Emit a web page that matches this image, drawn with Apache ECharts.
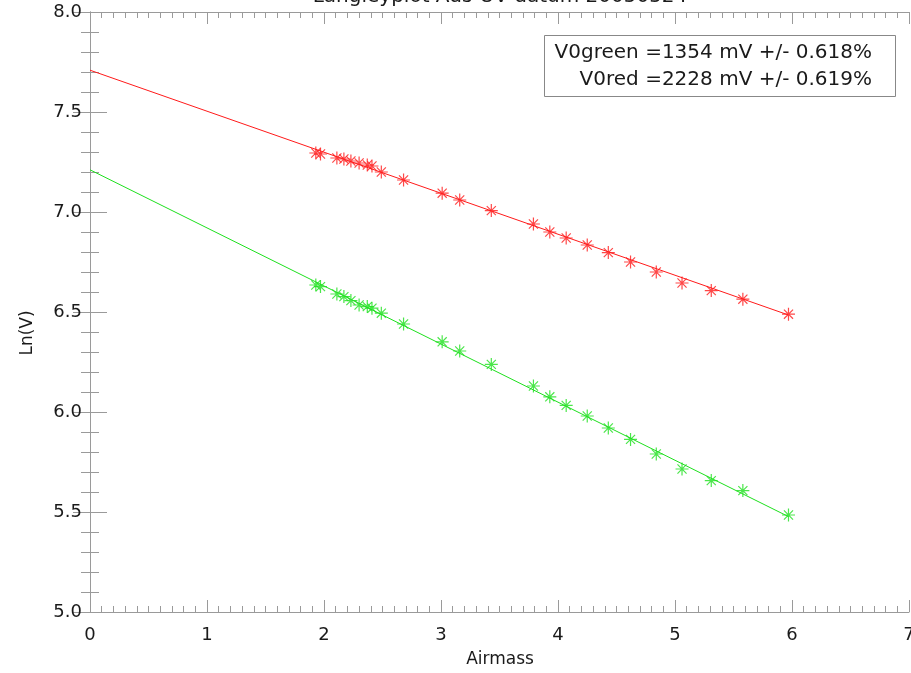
<!DOCTYPE html>
<html>
<head>
<meta charset="utf-8">
<script src="https://cdn.jsdelivr.net/npm/echarts@6/dist/echarts.min.js"></script>
<style>html,body{margin:0;padding:0;background:#fff;overflow:hidden}#c{width:911px;height:673px}</style>
</head>
<body>
<div id="c"></div>
<script>
// ---- data ----
const airmass = [1.93, 1.97, 2.11, 2.17, 2.23, 2.30, 2.37, 2.41, 2.49, 2.68, 3.01, 3.16, 3.43, 3.79, 3.93, 4.07, 4.25, 4.43, 4.62, 4.84, 5.06, 5.31, 5.58, 5.97];
const lnRed   = [7.295, 7.29, 7.27, 7.265, 7.255, 7.245, 7.235, 7.23, 7.20, 7.16, 7.094, 7.06, 7.007, 6.94, 6.90, 6.87, 6.835, 6.797, 6.75, 6.70, 6.645, 6.607, 6.564, 6.489];
const lnGreen = [6.635, 6.627, 6.59, 6.577, 6.557, 6.535, 6.527, 6.519, 6.494, 6.44, 6.351, 6.305, 6.238, 6.13, 6.076, 6.033, 5.98, 5.92, 5.863, 5.79, 5.715, 5.657, 5.607, 5.485];
const fitX = [0, 5.97];
const fitRed = [7.709, 6.485];
const fitGreen = [7.211, 5.477];
const xTicks = [0, 1, 2, 3, 4, 5, 6, 7];
const yTicks = [5.0, 5.5, 6.0, 6.5, 7.0, 7.5, 8.0];
const legendLines = ['V0green =1354 mV +/- 0.618%', 'V0red =2228 mV +/- 0.619%'];
const titleText = 'Langleyplot Ads-UV datum 20050524';
const xName = 'Airmass';
const yName = 'Ln(V)';

const RED = '#ff1a1a', GREEN = '#1ee01e', AXC = '#9a9a9a', TXT = '#1a1a1a';
const FONT = '"DejaVu Sans", "Liberation Sans", Arial, sans-serif';
const star = 'path://M10,0L10,20M0,10L20,10M3,3L17,17M3,17L17,3';

function pairs(xs, ys){ return xs.map((x,i)=>[x, ys[i]]); }

const chart = echarts.init(document.getElementById('c'), null, {renderer:'canvas', width:911, height:673});
const xBase = {type:'value', min:xTicks[0], max:xTicks[xTicks.length-1], interval:1,
  axisLine:{show:true, lineStyle:{color:AXC, width:1}},
  axisTick:{show:true, inside:true, length:12, lineStyle:{color:AXC}},
  minorTick:{show:true, splitNumber:10, length:6, lineStyle:{color:AXC}},
  splitLine:{show:false}};
const yBase = {type:'value', min:yTicks[0], max:yTicks[yTicks.length-1], interval:0.5,
  axisLine:{show:true, lineStyle:{color:AXC, width:1}},
  axisTick:{show:true, inside:true, length:17, lineStyle:{color:AXC}},
  minorTick:{show:true, splitNumber:5, length:9, lineStyle:{color:AXC}},
  splitLine:{show:false}};

chart.setOption({
  animation:false,
  backgroundColor:'#fff',
  grid:{left:90, width:819, top:12, height:600, containLabel:false, outerBoundsMode:'none'},
  xAxis:[
    Object.assign({}, xBase, {position:'bottom',
      axisLabel:{show:true, margin:14, fontSize:18, color:TXT, fontFamily:FONT,
        formatter:v=>String(v)}}),
    Object.assign({}, xBase, {position:'top', axisLabel:{show:false}})
  ],
  yAxis:[
    Object.assign({}, yBase, {position:'left',
      axisLabel:{show:true, margin:8, fontSize:18, color:TXT, fontFamily:FONT,
        formatter:v=>v.toFixed(1)}}),
    Object.assign({}, yBase, {position:'right', axisLabel:{show:false}})
  ],
  series:[
    {type:'line', data:pairs(fitX, fitRed), showSymbol:false, symbol:'none',
      lineStyle:{color:RED, width:1}, silent:true, z:2},
    {type:'line', data:pairs(fitX, fitGreen), showSymbol:false, symbol:'none',
      lineStyle:{color:GREEN, width:1}, silent:true, z:2},
    {type:'scatter', data:pairs(airmass, lnRed), symbol:star, symbolSize:13,
      itemStyle:{color:'rgba(0,0,0,0)', borderColor:RED, borderWidth:1.2}, z:3},
    {type:'scatter', data:pairs(airmass, lnGreen), symbol:star, symbolSize:13,
      itemStyle:{color:'rgba(0,0,0,0)', borderColor:GREEN, borderWidth:1.2}, z:3}
  ],
  graphic:[
    {type:'text', x:500, y:-3, style:{text:titleText, font:'20px '+FONT, fill:TXT, textAlign:'center', textVerticalAlign:'middle'}},
    {type:'text', x:500, y:660, style:{text:xName, font:'17px '+FONT, fill:TXT, textAlign:'center', textVerticalAlign:'middle'}},
    {type:'text', x:28, y:333, rotation:Math.PI/2, style:{text:yName, font:'17px '+FONT, fill:TXT, textAlign:'center', textVerticalAlign:'middle'}},
    {type:'rect', shape:{x:544.5, y:35.5, width:351, height:61}, style:{fill:'#fff', stroke:'#888', lineWidth:1}, z:10},
    {type:'text', x:872, y:53, z:11, style:{text:legendLines[0], font:'20px '+FONT, fill:TXT, textAlign:'right', textVerticalAlign:'middle'}},
    {type:'text', x:872, y:80, z:11, style:{text:legendLines[1], font:'20px '+FONT, fill:TXT, textAlign:'right', textVerticalAlign:'middle'}}
  ]
});
</script>
</body>
</html>
